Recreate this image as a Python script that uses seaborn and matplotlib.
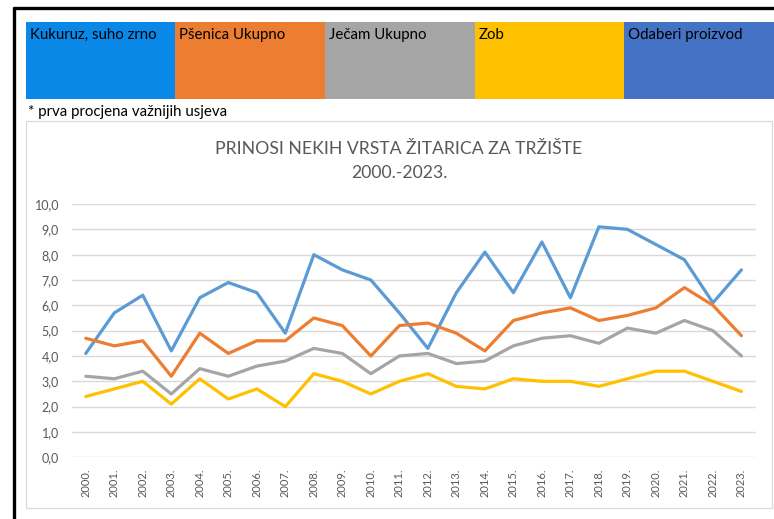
import matplotlib
matplotlib.use("Agg")
import matplotlib.pyplot as plt
from matplotlib.patches import Rectangle
from matplotlib.lines import Line2D
import numpy as np
import pandas as pd
import seaborn as sns

# ---- data -------------------------------------------------------------
years = [f"{y}." for y in range(2000, 2024)]

kukuruz = [4.1, 5.7, 6.4, 4.2, 6.3, 6.9, 6.5, 4.9, 8.0, 7.4, 7.0, 5.7,
           4.3, 6.5, 8.1, 6.5, 8.5, 6.3, 9.1, 9.0, 8.4, 7.8, 6.1, 7.4]
psenica = [4.7, 4.4, 4.6, 3.2, 4.9, 4.1, 4.6, 4.6, 5.5, 5.2, 4.0, 5.2,
           5.3, 4.9, 4.2, 5.4, 5.7, 5.9, 5.4, 5.6, 5.9, 6.7, 6.0, 4.8]
jecam = [3.2, 3.1, 3.4, 2.5, 3.5, 3.2, 3.6, 3.8, 4.3, 4.1, 3.3, 4.0,
         4.1, 3.7, 3.8, 4.4, 4.7, 4.8, 4.5, 5.1, 4.9, 5.4, 5.0, 4.0]
zob = [2.4, 2.7, 3.0, 2.1, 3.1, 2.3, 2.7, 2.0, 3.3, 3.0, 2.5, 3.0,
       3.3, 2.8, 2.7, 3.1, 3.0, 3.0, 2.8, 3.1, 3.4, 3.4, 3.0, 2.6]

series_names = ["Kukuruz", "Pšenica", "Ječam", "Zob"]
series_colors = ["#5B9BD5", "#ED7D31", "#A5A5A5", "#FFC000"]

buttons = ["Kukuruz, suho zrno", "Pšenica Ukupno", "Ječam Ukupno", "Zob", "Odaberi proizvod"]
button_colors = ["#0A88E8", "#ED7D31", "#A5A5A5", "#FFC000", "#4472C4"]

yticks = np.arange(0, 11, 1)
ytick_labels = [f"{v:.1f}".replace(".", ",") for v in yticks]

title_text = "PRINOSI NEKIH VRSTA ŽITARICA ZA TRŽIŠTE\n2000.-2023."
note_text = "* prva procjena važnijih usjeva"

# ---- long-form table ----------------------------------------------------
df = pd.DataFrame({
    "idx": np.tile(np.arange(len(years)), len(series_names)),
    "vrsta": np.repeat(series_names, len(years)),
    "prinos": kukuruz + psenica + jecam + zob,
})

# ---- figure ---------------------------------------------------------------
sns.set_theme(style="white")
plt.rcParams["font.family"] = ["Lato", "DejaVu Sans"]

W, H = 774, 519
fig = plt.figure(figsize=(W / 100, H / 100), dpi=100)


def fx(px):
    return px / W


def fy(py):
    return 1 - py / H


def box(x0, y0, x1, y1, **kw):
    fig.add_artist(Rectangle((fx(x0), fy(y1)), fx(x1) - fx(x0), fy(y0) - fy(y1),
                             transform=fig.transFigure, zorder=-5, **kw))


# outer black frame (top and left edges)
fig.add_artist(Line2D([fx(13.5), fx(774)], [fy(8), fy(8)], color="black", lw=2.4,
                      transform=fig.transFigure))
fig.add_artist(Line2D([fx(13.5), fx(13.5)], [fy(8), fy(519)], color="black", lw=2.4,
                      transform=fig.transFigure))

# selector buttons
bx = [26, 175, 325, 475, 624, 774]
for i, (label, col) in enumerate(zip(buttons, button_colors)):
    box(bx[i], 22, bx[i + 1], 98.5, facecolor=col, edgecolor="none")
    fig.text(fx(bx[i] + 4), fy(35), label, fontsize=10.8, color="black",
             ha="left", va="center")

fig.text(fx(28), fy(112), note_text, fontsize=10.8, color="black", ha="left", va="center")

# chart area frame
box(26, 121, 772, 508, facecolor="white", edgecolor="#D9D9D9", lw=0.9)

# ---- plot area ------------------------------------------------------------
ax = fig.add_axes([fx(71.5), fy(457.3), fx(755.7) - fx(71.5), fy(204) - fy(457.3)])
ax.set_facecolor("none")

sns.lineplot(data=df, x="idx", y="prinos", hue="vrsta", hue_order=series_names,
             palette=series_colors, linewidth=2.3, legend=False, ax=ax, zorder=3)

ax.set_xlim(-0.5, len(years) - 0.5)
ax.set_ylim(0, 10)
ax.set_yticks(yticks)
ax.set_yticklabels(ytick_labels)
ax.set_xticks(np.arange(len(years)))
ax.set_xticklabels(years, rotation=90)
ax.grid(axis="y", color="#D9D9D9", lw=1.0)
ax.grid(axis="x", visible=False)
for s in ax.spines.values():
    s.set_visible(False)
ax.tick_params(axis="y", length=0, pad=9, labelsize=9, labelcolor="#595959")
ax.tick_params(axis="x", length=0, pad=8, labelsize=8, labelcolor="#595959")
ax.set_xlabel("")
ax.set_ylabel("")

fig.text(fx(399), fy(161), title_text, fontsize=12.7, color="#595959",
         ha="center", va="center", linespacing=1.6)

fig.savefig("out.png", dpi=100)
